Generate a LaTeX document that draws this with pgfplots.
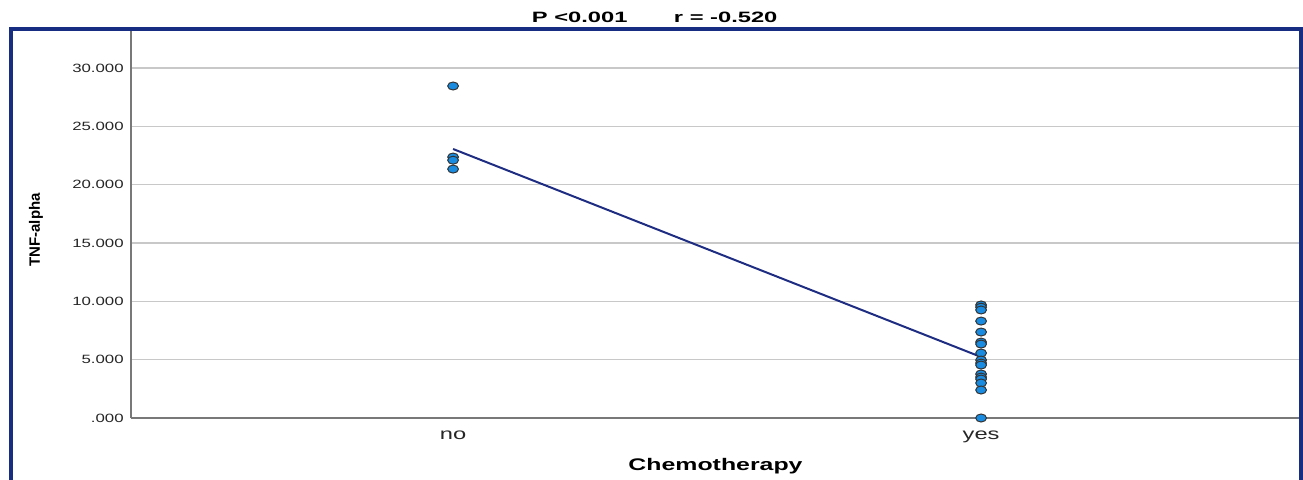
\documentclass[border=0pt]{standalone}
\usepackage{pgfplots}
\pgfplotsset{compat=1.18}
\usepackage{fontspec}
\setmainfont{Liberation Sans}
\newfontfamily\widef[FakeStretch=1.48]{Liberation Sans}
\newfontfamily\widerf[FakeStretch=1.58]{Liberation Sans}
\newfontfamily\tickf[FakeStretch=1.4]{Liberation Sans}
\definecolor{framec}{RGB}{22,45,130}
\definecolor{linec}{RGB}{30,45,130}
\definecolor{markc}{RGB}{25,140,225}
\definecolor{gridc}{RGB}{200,200,200}
\definecolor{spinec}{RGB}{120,120,120}
\begin{document}
\begin{tikzpicture}
\useasboundingbox (0,0) rectangle (651.5pt,239.5pt);
\begin{axis}[
  at={(65.5pt,30.5pt)}, anchor=south west,
  scale only axis, width=584.5pt, height=194pt,
  xmin=-0.61, xmax=1.604, ymin=0, ymax=33.26,
  axis lines=left, axis line style={spinec, line width=0.6pt, -},
  xtick={0,1}, xticklabels={no,yes},
  ytick={0,5,10,15,20,25,30},
  yticklabels={.000,5.000,10.000,15.000,20.000,25.000,30.000},
  tick style={draw=none},
  ymajorgrids, grid style={gridc, line width=0.6pt},
  yticklabel style={font=\tickf\fontsize{6}{7}\selectfont, text=black!85, xshift=2pt},
  xticklabel style={font=\widef\fontsize{8}{9}\selectfont, text=black!85, yshift=-1pt},
  xlabel={Chemotherapy},
  xlabel style={font=\widef\bfseries\fontsize{8.4}{10}\selectfont, yshift=-0.5pt},
  ylabel={\textbf{TNF-alpha}},
  ylabel style={font=\fontsize{7.5}{9}\selectfont, at={(axis description cs:-0.0813,0.485)}, anchor=center},
  title={P <0.001\hspace{3.1em}r = -0.520},
  title style={font=\widerf\bfseries\fontsize{7.5}{9}\selectfont, at={(axis description cs:0.448,1)}, anchor=center, yshift=0.5pt},
  clip=false,
]
\addplot[linec, line width=1pt] coordinates {(0,23.06) (1,5.23)};
\addplot[only marks, mark=*, mark size=2pt, mark options={xscale=1.35, fill=markc, draw=black!80, line width=0.5pt}]
coordinates {
(0,28.46) (0,22.37) (0,22.1) (0,21.34)
(1,9.69) (1,9.5) (1,9.26) (1,8.31) (1,7.37) (1,6.51) (1,6.34) (1,5.57)
(1,4.97) (1,4.71) (1,4.54) (1,3.77) (1,3.51) (1,3.34) (1,3.0) (1,2.4) (1,0)
};
\end{axis}
\draw[framec, line width=1.6pt] (5.5pt,-20pt) rectangle (650.5pt,225pt);
\end{tikzpicture}
\end{document}
